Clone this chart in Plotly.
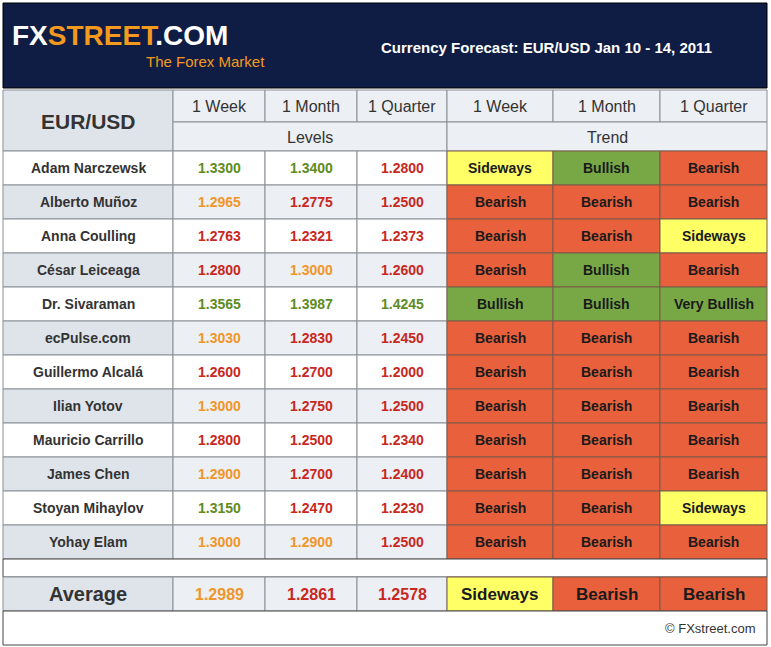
import plotly.graph_objects as go

forecasters = ["Adam Narczewsk","Alberto Muñoz","Anna Coulling","César Leiceaga","Dr. Sivaraman",
               "ecPulse.com","Guillermo Alcalá","Ilian Yotov","Mauricio Carrillo","James Chen",
               "Stoyan Mihaylov","Yohay Elam"]
week = [1.3300,1.2965,1.2763,1.2800,1.3565,1.3030,1.2600,1.3000,1.2800,1.2900,1.3150,1.3000]
month = [1.3400,1.2775,1.2321,1.3000,1.3987,1.2830,1.2700,1.2750,1.2500,1.2700,1.2470,1.2900]
quarter = [1.2800,1.2500,1.2373,1.2600,1.4245,1.2450,1.2000,1.2500,1.2340,1.2400,1.2230,1.2500]
trend_week = ["Sideways","Bearish","Bearish","Bearish","Bullish","Bearish","Bearish","Bearish","Bearish","Bearish","Bearish","Bearish"]
trend_month = ["Bullish","Bearish","Bearish","Bullish","Bullish","Bearish","Bearish","Bearish","Bearish","Bearish","Bearish","Bearish"]
trend_quarter = ["Bearish","Bearish","Sideways","Bearish","Very Bullish","Bearish","Bearish","Bearish","Bearish","Bearish","Sideways","Bearish"]
avg_levels = [1.2989,1.2861,1.2578]
avg_trend = ["Sideways","Bearish","Bearish"]
horizons = ["1 Week","1 Month","1 Quarter"]

FONT = "Liberation Sans, Arial, sans-serif"
xs = [3,173,265,357,447,553,660,767]
NAVY = "#0f1d45"
GRAY = "#eceff4"
NAMEGRAY = "#dfe4eb"
BORDER = "#8a8f96"
TREND_FILL = {"Sideways":"#ffff66","Bullish":"#78a845","Very Bullish":"#78a845","Bearish":"#e8603c"}

def lvl_color(v):
    if v >= 1.31: return "#5e8c1f"
    if v >= 1.29: return "#f0962a"
    return "#c8281e"

shapes, ann = [], []
def rect(x0,y0,x1,y1,fill,line=BORDER,w=1):
    shapes.append(dict(type="rect",xref="x",yref="y",x0=x0,y0=y0,x1=x1,y1=y1,
                       fillcolor=fill,line=dict(color=line,width=w),layer="below"))
def text(x,y,t,size,color,bold=True,anchor="center"):
    ann.append(dict(xref="x",yref="y",x=x,y=y,text=f"<b>{t}</b>" if bold else t,showarrow=False,
                    xanchor=anchor,yanchor="middle",font=dict(family=FONT,size=size,color=color)))

rect(3,3,767,88,NAVY,line="#000",w=1)
text(10,35,"<span style='color:#ffffff'>FX</span><span style='color:#f39a1e'>STREET</span><span style='color:#ffffff'>.COM</span>",28,"#fff",anchor="left")
text(144,61,"The Forex Market",15,"#f39a1e",bold=False,anchor="left")
text(546,47,"Currency Forecast: EUR/USD Jan 10 - 14, 2011",15,"#ffffff")

rect(3,90,173,151,NAMEGRAY)
text(88,121,"EUR/USD",21,"#333")
for i in range(6):
    rect(xs[i+1],90,xs[i+2],122,GRAY)
    text((xs[i+1]+xs[i+2])/2,106,horizons[i%3],16,"#333",bold=False)
rect(173,122,447,151,GRAY); text(310,137,"Levels",16,"#333",bold=False)
rect(447,122,767,151,GRAY); text(607,137,"Trend",16,"#333",bold=False)

RH = 34
for r, name in enumerate(forecasters):
    y0 = 151 + r*RH; y1 = y0+RH; yc = (y0+y1)/2
    bg = "#ffffff" if r % 2 == 0 else GRAY
    rect(3,y0,173,y1,"#ffffff" if r % 2 == 0 else NAMEGRAY)
    text(88,yc,name,14,"#333")
    for c, arr in enumerate([week,month,quarter]):
        v = arr[r]
        rect(xs[c+1],y0,xs[c+2],y1,bg)
        text((xs[c+1]+xs[c+2])/2,yc,f"{v:.4f}",14,lvl_color(v))
    for c, arr in enumerate([trend_week,trend_month,trend_quarter]):
        t = arr[r]
        rect(xs[c+4],y0,xs[c+5],y1,TREND_FILL[t],line="#7a5a4a")
        text((xs[c+4]+xs[c+5])/2,yc,t,14,"#1a1a1a")

rect(3,559,767,577,"#ffffff",line="#444")
y0,y1 = 577,611; yc=(y0+y1)/2
rect(3,y0,173,y1,NAMEGRAY)
text(88,yc,"Average",20,"#333")
for c,v in enumerate(avg_levels):
    rect(xs[c+1],y0,xs[c+2],y1,GRAY)
    text((xs[c+1]+xs[c+2])/2,yc,f"{v:.4f}",16,lvl_color(v))
for c,t in enumerate(avg_trend):
    rect(xs[c+4],y0,xs[c+5],y1,TREND_FILL[t],line="#7a5a4a")
    text((xs[c+4]+xs[c+5])/2,yc,t,17,"#1a1a1a")
rect(3,611,767,645,"#ffffff",line="#444")
text(758,628,"© FXstreet.com",13,"#333",bold=False,anchor="right")

fig = go.Figure()
fig.update_layout(width=771,height=647,margin=dict(l=0,r=0,t=0,b=0),
                  paper_bgcolor="#ffffff",plot_bgcolor="#ffffff",
                  xaxis=dict(range=[0,771],visible=False,fixedrange=True),
                  yaxis=dict(range=[647,0],visible=False,fixedrange=True),
                  shapes=shapes,annotations=ann,showlegend=False)
fig.write_html("out.html", config={"displayModeBar": False})
with open("out.html", encoding="utf-8") as f:
    html = f.read()
html = html.replace("<head>", "<head><style>html,body{margin:0;padding:0;overflow:hidden;}</style>", 1)
with open("out.html", "w", encoding="utf-8") as f:
    f.write(html)
